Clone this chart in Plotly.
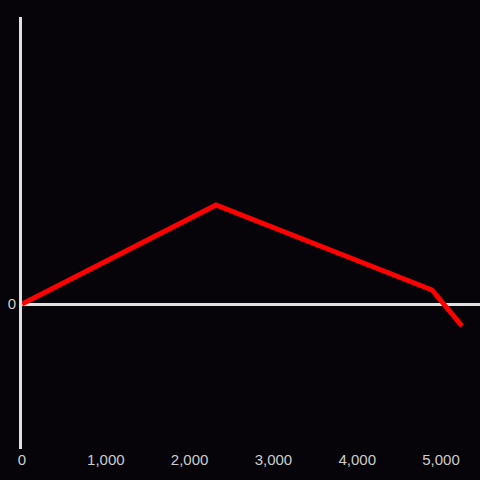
import plotly.graph_objects as go

x_vals = [0, 2315, 4893, 5250]
y_vals = [0, 99, 14, -22]

x_ticks = [0, 1000, 2000, 3000, 4000, 5000]
y_ticks = [0]

BG = "#060409"
AXIS = "#e0e0e0"
TICK_FONT = dict(family="Liberation Sans, Arial", size=15, color="#cccccc")

fig = go.Figure()

fig.add_trace(
    go.Scatter(
        x=x_vals,
        y=y_vals,
        mode="lines",
        line=dict(color="#ff0000", width=5),
        hoverinfo="skip",
        showlegend=False,
    )
)

fig.update_xaxes(
    range=[0, 5465],
    tickvals=x_ticks,
    tickformat=",d",
    showgrid=False,
    zeroline=False,
    showline=False,
    tickfont=TICK_FONT,
)
fig.update_yaxes(
    range=[-145, 287],
    tickvals=y_ticks,
    showgrid=False,
    zeroline=True,
    zerolinecolor=AXIS,
    zerolinewidth=3,
    showline=True,
    linecolor=AXIS,
    linewidth=3,
    tickfont=TICK_FONT,
)

fig.update_layout(
    width=480,
    height=480,
    paper_bgcolor=BG,
    plot_bgcolor=BG,
    margin=dict(l=22, r=0, t=17, b=31),
    showlegend=False,
)

# page margin off so the figure fills the window
fig.write_html(
    "out.html",
    config={"displayModeBar": False},
    post_script="document.body.style.margin='0';document.body.style.background='" + BG + "';",
)
